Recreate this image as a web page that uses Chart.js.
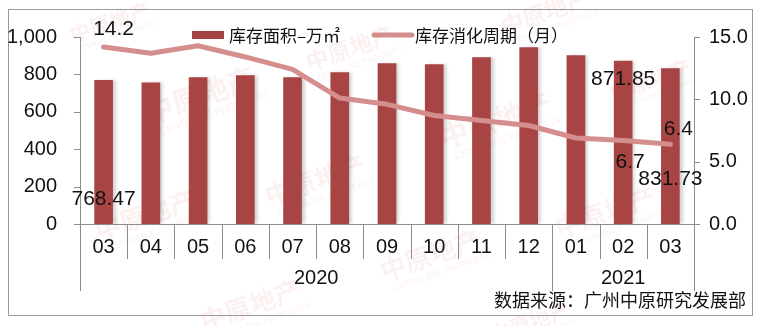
<!DOCTYPE html>
<html>
<head>
<meta charset="utf-8">
<script src="https://cdn.jsdelivr.net/npm/chart.js@4"></script>
<style>
html,body{margin:0;padding:0;background:#fff;}
#wrap{width:764px;height:326px;position:relative;}
</style>
</head>
<body>
<div id="wrap"><canvas id="c" width="764" height="326"></canvas></div>
<script>
const categories = ['03','04','05','06','07','08','09','10','11','12','01','02','03'];
const yearLabels = ['2020','2021'];
const yearSpans = [10,3];
const inventory = [768.47, 755, 783, 794, 783, 810, 858, 852, 890, 943, 900, 871.85, 831.73];
const cycle = [14.2, 13.7, 14.3, 13.4, 12.4, 10.1, 9.6, 8.7, 8.3, 7.9, 6.9, 6.7, 6.4];
const leftTicks = [0, 200, 400, 600, 800, 1000];
const rightTicks = [0, 5, 10, 15];
const seriesNames = ['库存面积–万㎡', '库存消化周期（月）'];
const sourceText = '数据来源：广州中原研究发展部';
const watermarkText = '中原地产';

const FONT = '"Liberation Sans", Arial, "Noto Sans CJK SC", sans-serif';
const CJK = '"Noto Sans CJK SC", "Liberation Sans", sans-serif';
const BAR = '#a84444';
const LINE = '#d58e8e';
const AXIS = '#8c8c8c';

// label placements (offsets from the element)
const labelSpecs = [
  {ds:1, i:0, dx:10, dy:-18},
  {ds:0, i:0, dx:0, dy:119},
  {ds:0, i:11, dx:0, dy:18},
  {ds:1, i:11, dx:7, dy:22},
  {ds:0, i:12, dx:0, dy:111},
  {ds:1, i:12, dx:8, dy:-15}
];

const decor = {
  id:'decor',
  beforeDraw(chart){
    const ctx = chart.ctx;
    ctx.save();
    ctx.fillStyle='#fff';
    ctx.fillRect(0,0,chart.width,chart.height);
    // watermarks
    const marks = [[110,22,0.8],[200,95,1.1],[350,48,0.9],[545,12,0.9],[495,120,1.1],[650,80,0.8],[145,215,1.0],[315,180,1.0],[250,305,1.0],[430,255,1.0],[605,212,1.0],[530,322,0.8]];
    ctx.fillStyle='rgba(215,70,70,0.08)';
    ctx.textAlign='center'; ctx.textBaseline='middle';
    marks.forEach(m=>{
      ctx.save();
      ctx.translate(m[0],m[1]);
      ctx.rotate(-0.33);
      ctx.font = 'bold '+Math.round(26*m[2])+'px '+CJK;
      ctx.fillText(watermarkText,0,0);
      ctx.font = Math.round(9*m[2])+'px '+FONT;
      ctx.fillText('CENTALINE PROPERTY',6*m[2],20*m[2]);
      ctx.restore();
    });
    // outer frame
    ctx.strokeStyle='#9a9a9a'; ctx.lineWidth=1;
    ctx.strokeRect(8.5,9.5,744,306);
    ctx.restore();
  },
  beforeDatasetDraw(chart,args){
    if(args.index===0){
      const ctx=chart.ctx; ctx.save();
      ctx.shadowColor='rgba(0,0,0,0.18)';
      ctx.shadowOffsetX=3; ctx.shadowOffsetY=0; ctx.shadowBlur=3;
    }
  },
  afterDatasetDraw(chart,args){
    if(args.index===0){ chart.ctx.restore(); }
  },
  afterDraw(chart){
    const ctx=chart.ctx;
    const x=chart.scales.x, y=chart.scales.y;
    const n=categories.length;
    const w=(x.right-x.left)/n;
    const base=y.getPixelForValue(0);
    ctx.save();
    ctx.strokeStyle=AXIS; ctx.lineWidth=1;
    ctx.beginPath();
    ctx.moveTo(Math.round(x.left)+0.5, y.top); ctx.lineTo(Math.round(x.left)+0.5, base+67);
    ctx.moveTo(Math.round(x.right)+0.5, y.top); ctx.lineTo(Math.round(x.right)+0.5, base+67);
    ctx.moveTo(x.left, Math.round(base)+0.5); ctx.lineTo(x.right, Math.round(base)+0.5);
    leftTicks.forEach(v=>{const py=Math.round(y.getPixelForValue(v))+0.5; ctx.moveTo(x.left-6,py); ctx.lineTo(x.left,py);});
    const yr=chart.scales.y1;
    rightTicks.forEach(v=>{const py=Math.round(yr.getPixelForValue(v))+0.5; ctx.moveTo(x.right,py); ctx.lineTo(x.right+6,py);});
    for(let i=1;i<n;i++){
      const px=Math.round(x.left+i*w)+0.5;
      ctx.moveTo(px,base); ctx.lineTo(px,base+35);
    }
    let acc=0;
    yearSpans.forEach((s,k)=>{
      acc+=s;
      if(acc<n){const px=Math.round(x.left+acc*w)+0.5; ctx.moveTo(px,base+35); ctx.lineTo(px,base+67);}
    });
    ctx.stroke();
    ctx.fillStyle='#111'; ctx.font='20px '+FONT; ctx.textAlign='center'; ctx.textBaseline='middle';
    acc=0;
    yearSpans.forEach((s,k)=>{
      const cx=x.left+(acc+s/2)*w;
      ctx.fillText(yearLabels[k],cx,base+54);
      acc+=s;
    });
    ctx.font='21px '+FONT;
    labelSpecs.forEach(sp=>{
      const el=chart.getDatasetMeta(sp.ds).data[sp.i];
      const v=chart.data.datasets[sp.ds].data[sp.i];
      const t = sp.ds===0 ? v.toFixed(2) : v.toFixed(1);
      ctx.fillText(t, el.x+sp.dx, el.y+sp.dy);
    });
    // legend
    ctx.textAlign='left';
    ctx.font='17px '+CJK;
    ctx.fillStyle=BAR;
    ctx.fillRect(192,31,32,8);
    ctx.fillStyle='#111';
    ctx.fillText(seriesNames[0],229,35.5);
    ctx.strokeStyle=LINE; ctx.lineWidth=5; ctx.lineCap='round';
    ctx.beginPath(); ctx.moveTo(374,35); ctx.lineTo(412,35); ctx.stroke();
    ctx.fillText(seriesNames[1],415,35.5);
    ctx.textAlign='right';
    ctx.font='18px '+CJK;
    ctx.fillText(sourceText,746,300);
    ctx.restore();
  }
};

new Chart(document.getElementById('c'),{
  data:{
    labels:categories,
    datasets:[
      {type:'bar', label:seriesNames[0], data:inventory, backgroundColor:BAR, barThickness:18, yAxisID:'y', order:1},
      {type:'line', label:seriesNames[1], data:cycle, borderColor:LINE, borderWidth:5, pointRadius:0, tension:0, yAxisID:'y1', order:0, borderCapStyle:'round', borderJoinStyle:'round'}
    ]
  },
  options:{
    responsive:false, animation:false, devicePixelRatio:1,
    layout:{padding:{top:37,left:0,right:0,bottom:0}},
    plugins:{legend:{display:false}, tooltip:{enabled:false}},
    scales:{
      x:{
        offset:true,
        grid:{display:false, drawTicks:false},
        border:{display:false},
        ticks:{color:'#111', font:{family:FONT,size:20}, padding:11, maxRotation:0, autoSkip:false},
        afterFit(s){s.height=102;}
      },
      y:{
        position:'left', min:0, max:1000,
        afterBuildTicks(s){s.ticks=leftTicks.map(v=>({value:v}));},
        grid:{display:false, drawTicks:false},
        border:{display:false},
        ticks:{color:'#111', font:{family:FONT,size:20}, padding:23, callback:v=>v.toLocaleString('en-US')},
        afterFit(s){s.width=80;}
      },
      y1:{
        position:'right', min:0, max:15,
        afterBuildTicks(s){s.ticks=rightTicks.map(v=>({value:v}));},
        grid:{display:false, drawTicks:false},
        border:{display:false},
        ticks:{color:'#111', font:{family:FONT,size:20}, padding:15, callback:v=>v.toFixed(1)},
        afterFit(s){s.width=70;}
      }
    }
  },
  plugins:[decor]
});
</script>
</body>
</html>
